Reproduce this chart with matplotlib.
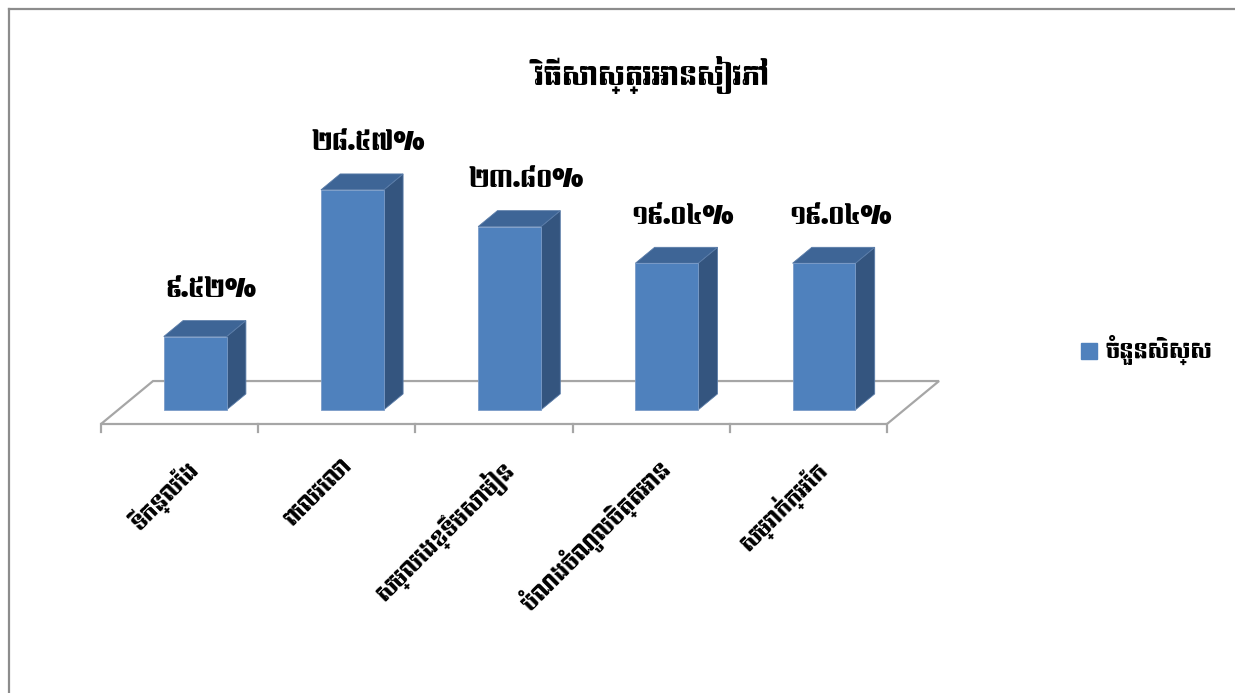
import matplotlib
matplotlib.use('Agg')
import matplotlib.pyplot as plt
from matplotlib import font_manager, ft2font
from matplotlib.patches import Polygon, Patch

title = 'វិធីសាស្ត្រអានសៀវភៅ'
series_name = 'ចំនួនសិស្ស'
categories = ['ទីកន្លែង', 'ពេលវេលា', 'សម្លេងខ្ទឹមសាមៀន', 'បំណងចំណូលចិត្តអាន', 'សម្រាក់ក្អែក']
values = [9.52, 28.57, 23.80, 19.04, 19.04]
value_labels = ['៩.៥២%', '២៨.៥៧%', '២៣.៨០%', '១៩.០៤%', '១៩.០៤%']

# look for installed fonts that cover khmer, regular weight first
khmer_reg, khmer_any = [], []
for f in font_manager.fontManager.ttflist:
    try:
        if 0x1780 in ft2font.FT2Font(f.fname).get_charmap():
            khmer_any.append(f.name)
            if f.weight in (400, 'normal', 'regular') and f.style == 'normal':
                khmer_reg.append(f.name)
    except Exception:
        pass
fams = sorted(set(khmer_reg)) + sorted(set(khmer_any) - set(khmer_reg)) + ['DejaVu Sans']
plt.rcParams['font.family'] = fams

front = '#4F81BD'
side = '#34557F'
top = '#3E6596'
floor_c = '#A6A6A6'

# depth of the pseudo-3d floor, in data units
DX = 0.331
DZ = 5.58
d0, d1 = 0.33, 0.70


def proj(x, z, d):
    return (x + d * DX, z + d * DZ)


fig = plt.figure(figsize=(12.35, 6.93), dpi=100)
ax = fig.add_axes([101 / 1235, (693 - 424) / 693, 786 / 1235, 385 / 693])
ax.set_xlim(0, 5)
ax.set_ylim(0, 50)
ax.axis('off')

n = len(categories)

# floor
fl = [proj(0, 0, 0), proj(n, 0, 0), proj(n, 0, 1), proj(0, 0, 1)]
ax.add_patch(Polygon(fl, closed=True, facecolor='none', edgecolor=floor_c,
                     lw=1.6, clip_on=False, zorder=1))
for i in range(n + 1):
    ax.plot([i, i], [0, -1.1], color=floor_c, lw=1.6, clip_on=False, zorder=1)

for i, v in enumerate(values):
    x0, x1 = i + 0.29, i + 0.69
    fr = [proj(x0, 0, d0), proj(x1, 0, d0), proj(x1, v, d0), proj(x0, v, d0)]
    sd = [proj(x1, 0, d0), proj(x1, 0, d1), proj(x1, v, d1), proj(x1, v, d0)]
    tp = [proj(x0, v, d0), proj(x1, v, d0), proj(x1, v, d1), proj(x0, v, d1)]
    ax.add_patch(Polygon(sd, closed=True, fc=side, ec='#5A7CA8', lw=0.6, clip_on=False, zorder=3))
    ax.add_patch(Polygon(tp, closed=True, fc=top, ec='#5A7CA8', lw=0.6, clip_on=False, zorder=3))
    ax.add_patch(Polygon(fr, closed=True, fc=front, ec='#7B9CC8', lw=0.6, clip_on=False, zorder=4))
    cx, cz = proj((x0 + x1) / 2, v, d1)
    ax.text(cx - 0.02, cz + 2.4, value_labels[i], ha='center', va='bottom',
            fontsize=17, fontweight='normal', color='black', zorder=5)
    ax.text(i + 0.53, -4.0, categories[i], rotation=45, rotation_mode='anchor',
            ha='right', va='top', fontsize=15, fontweight='normal', color='black')

fig.text(652 / 1235, 1 - 75 / 693, title, ha='center', va='center',
         fontsize=19, fontweight='bold')

ax.legend(handles=[Patch(facecolor=front, edgecolor=front)], labels=[series_name],
          loc='center left', bbox_to_anchor=(1062 / 1235, 1 - 350 / 693),
          bbox_transform=fig.transFigure, frameon=False, fontsize=15,
          handlelength=0.8, handleheight=0.8, handletextpad=0.4)

# outer frame of the chart area (runs past the right and bottom edges)
fig.add_artist(plt.Line2D([9 / 1235, 9 / 1235], [0, 1 - 9 / 693], color='#8C8C8C', lw=1.6))
fig.add_artist(plt.Line2D([9 / 1235, 1], [1 - 9 / 693, 1 - 9 / 693], color='#8C8C8C', lw=1.6))

fig.savefig('out.png', dpi=100)
